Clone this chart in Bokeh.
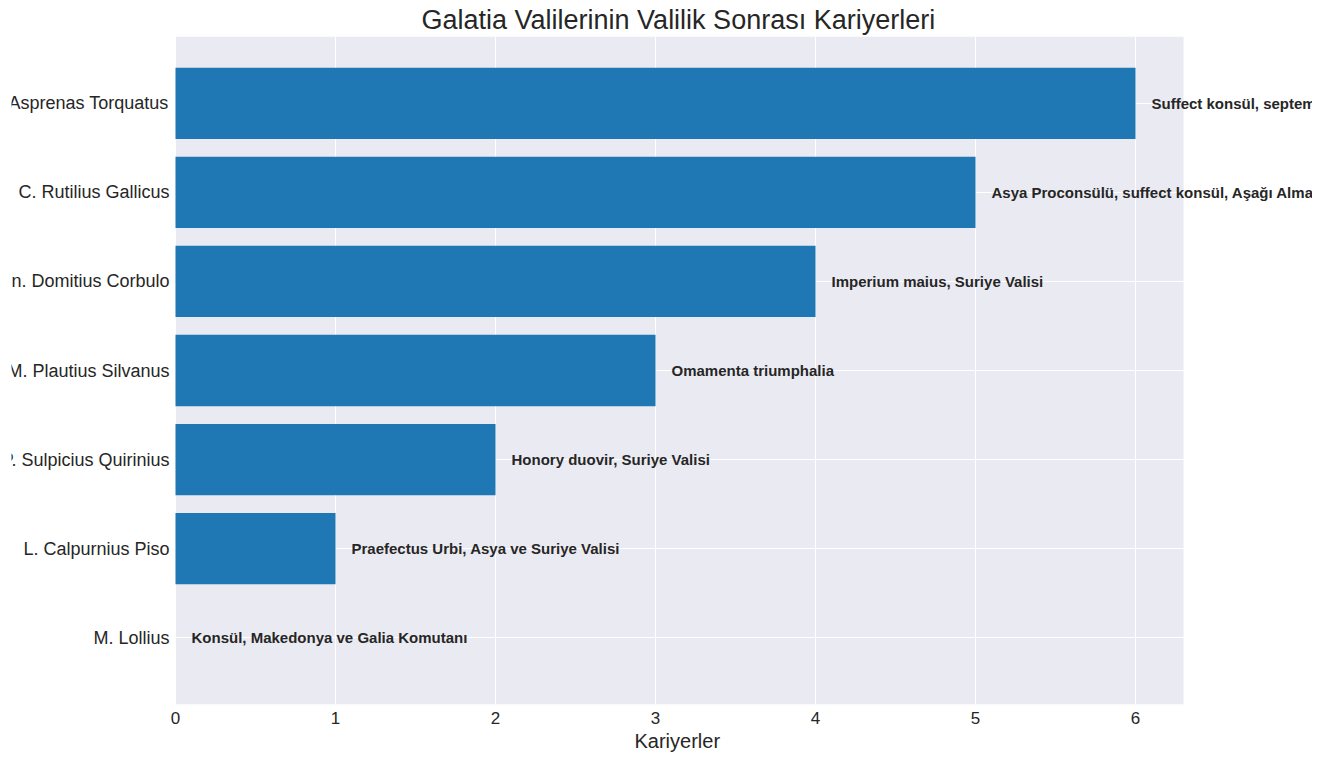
from bokeh.plotting import figure
from bokeh.models import ColumnDataSource, Range1d, FixedTicker, BoxAnnotation, Title
from bokeh.core.properties import value
from bokeh.embed import file_html
from bokeh.resources import INLINE

# ---- data (bottom to top) ----
names = [
    "M. Lollius",
    "L. Calpurnius Piso",
    "P. Sulpicius Quirinius",
    "M. Plautius Silvanus",
    "Cn. Domitius Corbulo",
    "C. Rutilius Gallicus",
    "L. Nonius Asprenas Torquatus",
]
careers = [0, 1, 2, 3, 4, 5, 6]
notes = [
    "Konsül, Makedonya ve Galia Komutanı",
    "Praefectus Urbi, Asya ve Suriye Valisi",
    "Honory duovir, Suriye Valisi",
    "Omamenta triumphalia",
    "Imperium maius, Suriye Valisi",
    "Asya Proconsülü, suffect konsül, Aşağı Almanya Valisi",
    "Suffect konsül, septemvir epulonum",
]
x_ticks = [0, 1, 2, 3, 4, 5, 6]

ypos = list(range(len(names)))
note_x = [v + 0.1 for v in careers]
zeros = [0] * len(names)

src = ColumnDataSource(dict(y=ypos, name=names, val=careers, note=notes,
                            note_x=note_x, zero=zeros))

FONT = "Liberation Sans"
TXT = "#262626"
AX_MAX = 6.3          # visible extent of the axes area
PX_PER_UNIT = 160.0
BORDER_L = 11
LEFT_PX = 164         # room for the (clipped) name labels
FRAME_W = 1301

p = figure(
    frame_width=FRAME_W, frame_height=668,
    min_border_left=BORDER_L, min_border_right=0, min_border_top=0, min_border_bottom=0,
    x_range=Range1d(-LEFT_PX / PX_PER_UNIT, (FRAME_W - LEFT_PX) / PX_PER_UNIT),
    y_range=Range1d(-0.75, 6.75),
    output_backend="svg", toolbar_location=None,
    title="Galatia Valilerinin Valilik Sonrası Kariyerleri",
)

p.background_fill_color = "white"
p.border_fill_color = "white"
p.outline_line_color = None

# axes-area background
p.add_layout(BoxAnnotation(left=0, right=AX_MAX, fill_color="#EAEAF2", fill_alpha=1.0,
                           line_color=None, level="image"))

p.title.align = "left"
p.title.offset = 421 - BORDER_L
p.title.text_font = FONT
p.title.text_font_size = "27px"
p.title.text_font_style = "normal"
p.title.text_color = TXT
p.title.standoff = 4

p.hbar(y="y", right="val", left=0, height=0.8, source=src,
       fill_color="#1F77B4", line_color=None)

p.yaxis.visible = False
p.ygrid.ticker = FixedTicker(ticks=ypos)
p.xaxis.ticker = FixedTicker(ticks=x_ticks)
p.xgrid.ticker = FixedTicker(ticks=x_ticks)
p.grid.grid_line_color = "white"
p.grid.grid_line_width = 1

p.xaxis.bounds = (0, AX_MAX)
p.xaxis.axis_line_color = None
p.xaxis.major_tick_line_color = None
p.xaxis.minor_tick_line_color = None
p.xaxis.major_label_text_font = FONT
p.xaxis.major_label_text_font_size = "17px"
p.xaxis.major_label_text_color = TXT
p.xaxis.major_label_standoff = 1

# x-axis title, centred under the axes area
p.add_layout(Title(text="Kariyerler", align="left", offset=634 - BORDER_L,
                   text_font=FONT, text_font_size="20px", text_font_style="normal",
                   text_color=TXT, standoff=2), "below")

# category names (right-aligned just left of the axes area)
p.text(x="zero", y="y", text="name", source=src, x_offset=-6,
       text_align="right", text_baseline="middle",
       text_font=value(FONT), text_font_size=value("18px"), text_color=TXT)
# annotations to the right of each bar
p.text(x="note_x", y="y", text="note", source=src,
       text_align="left", text_baseline="middle",
       text_font=value(FONT), text_font_size=value("15px"), text_font_style="bold",
       text_color=TXT)

open("out.html", "w").write(file_html(p, INLINE))
